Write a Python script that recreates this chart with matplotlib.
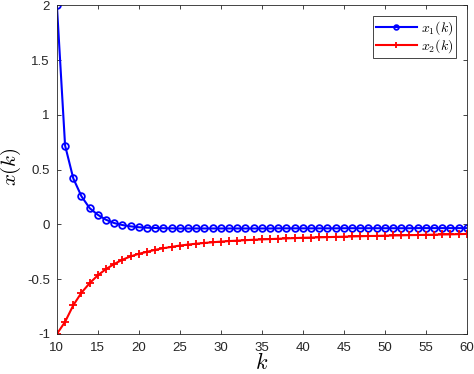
import matplotlib
matplotlib.use('Agg')
import matplotlib.pyplot as plt

plt.rcParams['font.family'] = ['Liberation Sans', 'DejaVu Sans']
plt.rcParams['mathtext.fontset'] = 'cm'

k = list(range(10, 61))

x1 = [2.0, 0.72, 0.42, 0.256, 0.148, 0.087, 0.042, 0.012, -0.006, -0.018,
      -0.026, -0.030, -0.033, -0.035, -0.036, -0.037, -0.037, -0.037, -0.037, -0.037,
      -0.037, -0.037, -0.037, -0.037, -0.037, -0.037, -0.037, -0.036, -0.036, -0.036,
      -0.036, -0.036, -0.036, -0.036, -0.036, -0.035, -0.035, -0.035, -0.035, -0.035,
      -0.035, -0.035, -0.035, -0.035, -0.034, -0.034, -0.034, -0.034, -0.034, -0.034,
      -0.034]

x2 = [-1.0, -0.889, -0.738, -0.623, -0.536, -0.464, -0.407, -0.361, -0.322, -0.292,
      -0.268, -0.250, -0.232, -0.217, -0.205, -0.193, -0.184, -0.176, -0.169, -0.163,
      -0.157, -0.152, -0.148, -0.144, -0.140, -0.137, -0.134, -0.131, -0.128, -0.125,
      -0.122, -0.120, -0.118, -0.116, -0.114, -0.112, -0.110, -0.108, -0.106, -0.105,
      -0.103, -0.101, -0.100, -0.098, -0.097, -0.095, -0.094, -0.092, -0.091, -0.089,
      -0.087]

xticks = [10, 15, 20, 25, 30, 35, 40, 45, 50, 55, 60]
yticks = [-1, -0.5, 0, 0.5, 1, 1.5, 2]
ytick_labels = ['-1', '-0.5', '0', '0.5', '1', '1.5', '2']

fig = plt.figure(figsize=(4.74, 3.74), dpi=100)
ax = fig.add_axes([0.12, 0.107, 0.865, 0.879])

ax.plot(k, x1, color='#0000ff', linewidth=1.5, marker='o', markersize=4.8,
        markerfacecolor='none', markeredgewidth=1.3, label='$x_1(k)$')
ax.plot(k, x2, color='#ff0000', linewidth=1.5, marker='+', markersize=6,
        markeredgewidth=1.3, label='$x_2(k)$')

ax.set_xlim(10, 60)
ax.set_ylim(-1, 2)
ax.set_xticks(xticks)
ax.set_yticks(yticks)
ax.set_yticklabels(ytick_labels)
ax.tick_params(direction='in', top=True, right=True, labelsize=9.5, length=3,
               width=0.6, colors='#262626', labelcolor='#262626')
ax.tick_params(axis='x', pad=6)
ax.tick_params(axis='y', pad=5)
for sp in ax.spines.values():
    sp.set_linewidth(0.6)
    sp.set_color('#262626')

ax.set_xlabel('$k$', fontsize=16, labelpad=-1)
ax.set_ylabel('$x(k)$', fontsize=15, va='center')
ax.yaxis.set_label_coords(-0.112, 0.508)

leg = ax.legend(loc='upper right', fontsize=10, fancybox=False, framealpha=1,
                edgecolor='#262626', borderpad=0.2, handlelength=2.9,
                labelspacing=0.05, handletextpad=0.3, borderaxespad=0.8,
                markerscale=0.7)
leg.get_frame().set_linewidth(0.6)

fig.savefig('out.png', dpi=100)
